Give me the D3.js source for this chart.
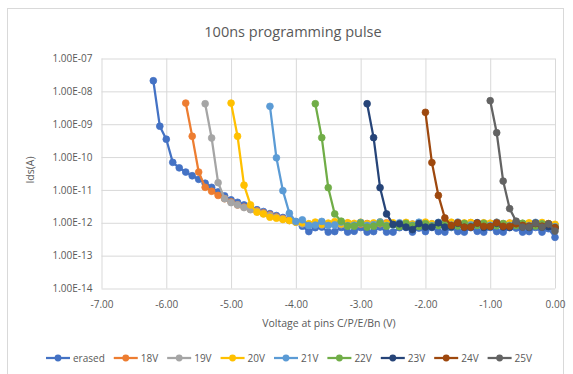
<!DOCTYPE html>
<html>
<head>
<meta charset="utf-8">
<script src="https://cdn.jsdelivr.net/npm/d3@7"></script>
<style>
  body { margin: 0; background: #fff; }
  text { font-family: "Open Sans", sans-serif; fill: #595959; }
</style>
</head>
<body>
<svg id="chart" width="573" height="374"></svg>
<script>
// sweep voltages (V), all series end at 0.00
const voltage = [-6.2, -6.1, -6.0, -5.9, -5.8, -5.7, -5.6, -5.5, -5.4, -5.3,
  -5.2, -5.1, -5.0, -4.9, -4.8, -4.7, -4.6, -4.5, -4.4, -4.3,
  -4.2, -4.1, -4.0, -3.9, -3.8, -3.7, -3.6, -3.5, -3.4, -3.3,
  -3.2, -3.1, -3.0, -2.9, -2.8, -2.7, -2.6, -2.5, -2.4, -2.3,
  -2.2, -2.1, -2.0, -1.9, -1.8, -1.7, -1.6, -1.5, -1.4, -1.3,
  -1.2, -1.1, -1.0, -0.9, -0.8, -0.7, -0.6, -0.5, -0.4, -0.3,
  -0.2, -0.1, 0.0];

const seriesNames = ['erased', '18V', '19V', '20V', '21V', '22V', '23V', '24V', '25V'];
const seriesColors = ['#4472C4', '#ED7D31', '#A5A5A5', '#FFC000', '#5B9BD5', '#70AD47', '#264478', '#9E480E', '#636363'];

const idsErased = [2.1e-8, 8.7e-10, 3.5e-10, 6.9e-11, 4.7e-11, 3.5e-11, 2.7e-11, 2.1e-11, 1.6e-11, 1.2e-11,
  8.7e-12, 6.6e-12, 5.0e-12, 4.2e-12, 3.5e-12, 2.95e-12, 2.5e-12, 2.2e-12, 1.9e-12, 1.66e-12,
  1.45e-12, 1.26e-12, 1.05e-12, 7.9e-13, 5.4e-13, 7.1e-13, 7.4e-13, 5.2e-13, 5.4e-13, 7.2e-13,
  5.2e-13, 5.5e-13, 7.2e-13, 5.2e-13, 5.4e-13, 7.4e-13, 5.2e-13, 5.2e-13, 7.1e-13, 7.2e-13,
  5.2e-13, 6.9e-13, 5.4e-13, 7.2e-13, 5.4e-13, 5.2e-13, 7.2e-13, 5.4e-13, 5.2e-13, 7.1e-13,
  5.5e-13, 5.2e-13, 7.2e-13, 5.4e-13, 5.2e-13, 7.1e-13, 6.9e-13, 5.2e-13, 5.4e-13, 7.2e-13,
  5.2e-13, 6.6e-13, 3.6e-13];
const ids18V = [4.4e-9, 4.3e-10, 3.5e-11, 1.2e-11, 9.1e-12, 6.8e-12, 5.4e-12, 4.3e-12, 3.5e-12, 3.0e-12,
  2.6e-12, 2.3e-12, 2.0e-12, 1.74e-12, 1.5e-12, 1.35e-12, 1.2e-12, 1.07e-12,
  9.6e-13, 8.8e-13, 9.2e-13, 1.0e-12, 8.7e-13, 9.4e-13, 8.9e-13, 9.8e-13, 8.6e-13, 9.1e-13,
  9.5e-13, 8.8e-13, 9.3e-13, 1.0e-12, 8.7e-13, 9.0e-13, 9.6e-13, 8.8e-13, 9.2e-13, 9.9e-13,
  8.6e-13, 9.4e-13, 9.0e-13, 9.7e-13, 8.8e-13, 9.3e-13, 1.0e-12, 8.7e-13, 9.1e-13, 9.5e-13,
  8.9e-13, 9.2e-13, 9.8e-13, 8.7e-13, 9.4e-13, 9.0e-13, 9.6e-13, 8.8e-13, 9.3e-13, 8.5e-13];
const ids19V = [4.2e-9, 3.8e-10, 1.66e-11, 5.4e-12, 4.1e-12, 3.5e-12, 2.9e-12, 2.5e-12, 2.2e-12, 1.9e-12,
  1.66e-12, 1.45e-12, 1.3e-12, 1.17e-12, 1.07e-12,
  9.3e-13, 8.9e-13, 9.7e-13, 8.6e-13, 9.2e-13, 9.9e-13, 8.8e-13, 9.4e-13, 9.0e-13, 9.6e-13,
  8.7e-13, 9.3e-13, 9.8e-13, 8.9e-13, 9.1e-13, 9.5e-13, 8.6e-13, 9.2e-13, 1.0e-12, 8.8e-13,
  9.4e-13, 9.0e-13, 9.7e-13, 8.7e-13, 9.3e-13, 9.6e-13, 8.9e-13, 9.1e-13, 9.8e-13, 8.8e-13,
  9.2e-13, 9.5e-13, 8.7e-13, 9.4e-13, 9.0e-13, 9.6e-13, 8.9e-13, 9.3e-13, 9.1e-13, 8.6e-13];
const ids20V = [4.4e-9, 4.3e-10, 1.4e-11, 3.5e-12, 2.1e-12, 1.86e-12, 1.48e-12, 1.38e-12, 1.26e-12, 1.17e-12,
  1.05e-12,
  1.0e-12, 9.4e-13, 1.05e-12, 9.1e-13, 9.8e-13, 1.08e-12, 9.3e-13, 1.0e-12, 9.6e-13, 1.04e-12,
  9.2e-13, 9.9e-13, 1.06e-12, 9.4e-13, 1.0e-12, 9.5e-13, 1.03e-12, 9.1e-13, 9.8e-13, 1.05e-12,
  9.3e-13, 1.0e-12, 9.6e-13, 1.04e-12, 9.2e-13, 9.9e-13, 1.02e-12, 9.4e-13, 1.0e-12, 9.7e-13,
  1.03e-12, 9.1e-13, 9.8e-13, 1.05e-12, 9.3e-13, 1.0e-12, 9.6e-13, 1.02e-12, 9.4e-13, 9.0e-13];
const ids21V = [3.5e-9, 9.5e-11, 9.5e-12, 1.95e-12, 1.1e-12, 1.23e-12, 8.3e-13, 8.5e-13, 1.1e-12, 8.3e-13,
  8.6e-13, 1.05e-12, 8.2e-13, 8.4e-13, 1.02e-12, 8.3e-13, 8.7e-13, 1.06e-12, 8.2e-13, 8.5e-13,
  1.0e-12, 8.4e-13, 8.3e-13, 1.04e-12, 8.6e-13, 8.2e-13, 1.03e-12, 8.4e-13, 8.5e-13, 1.05e-12,
  8.3e-13, 8.6e-13, 1.01e-12, 8.2e-13, 8.4e-13, 1.04e-12, 8.5e-13, 8.3e-13, 1.02e-12, 8.6e-13,
  8.2e-13, 1.03e-12, 8.4e-13, 8.5e-13, 7.6e-13];
const ids22V = [4.2e-9, 3.9e-10, 1.17e-11, 1.86e-12, 1.12e-12, 7.9e-13, 7.9e-13, 9.8e-13, 7.4e-13, 7.9e-13,
  9.8e-13, 7.9e-13,
  8.9e-13, 7.6e-13, 9.6e-13, 8.1e-13, 7.7e-13, 9.4e-13, 7.9e-13, 8.2e-13, 9.7e-13, 7.6e-13,
  8.0e-13, 9.5e-13, 7.8e-13, 8.3e-13, 9.6e-13, 7.7e-13, 8.1e-13, 9.4e-13, 7.9e-13, 8.2e-13,
  9.7e-13, 7.6e-13, 8.0e-13, 9.3e-13, 7.8e-13, 7.2e-13];
const ids23V = [4.2e-9, 3.9e-10, 1.17e-11, 1.86e-12, 8.9e-13, 9.3e-13, 7.4e-13, 6.2e-13, 9.5e-13, 7.4e-13,
  7.4e-13, 1.0e-12, 7.4e-13, 7.6e-13,
  9.7e-13, 7.3e-13, 7.5e-13, 9.9e-13, 7.2e-13, 7.6e-13, 9.6e-13, 7.4e-13, 7.3e-13, 9.8e-13,
  7.5e-13, 7.2e-13, 9.7e-13, 7.4e-13, 7.6e-13, 6.9e-13];
const ids24V = [2.3e-9, 6.8e-11, 6.8e-12, 1.4e-12, 8.3e-13, 1.0e-12, 7.4e-13, 7.4e-13, 9.8e-13, 7.8e-13,
  7.8e-13, 1.0e-12, 7.8e-13, 7.8e-13, 9.3e-13, 8.3e-13, 7.9e-13, 9.5e-13, 7.9e-13, 9.3e-13, 7.1e-13];
const ids25V = [5.2e-9, 5.5e-10, 1.86e-11, 2.7e-12, 1.12e-12, 7.4e-13, 7.4e-13, 9.8e-13, 7.4e-13, 9.3e-13, 5.6e-13];

const xTickValues = [-7, -6, -5, -4, -3, -2, -1, 0];
const xTickLabels = ['-7.00', '-6.00', '-5.00', '-4.00', '-3.00', '-2.00', '-1.00', '0.00'];
const yTickValues = [1e-14, 1e-13, 1e-12, 1e-11, 1e-10, 1e-9, 1e-8, 1e-7];
const yTickLabels = ['1.00E-14', '1.00E-13', '1.00E-12', '1.00E-11', '1.00E-10', '1.00E-09', '1.00E-08', '1.00E-07'];

const allIds = [idsErased, ids18V, ids19V, ids20V, ids21V, ids22V, ids23V, ids24V, ids25V];

// pair each series with the tail of the voltage sweep
const series = seriesNames.map((name, i) => {
  const vals = allIds[i];
  const xs = voltage.slice(voltage.length - vals.length);
  return { name, color: seriesColors[i], points: vals.map((v, j) => ({ x: xs[j], y: v })) };
});

const plot = { left: 101.5, right: 555, top: 58.5, bottom: 288.5 };

const svg = d3.select('#chart');

// chart frame
svg.append('rect')
  .attr('x', 7.5).attr('y', 8.5)
  .attr('width', 556).attr('height', 372)
  .attr('fill', '#fff')
  .attr('stroke', '#d9d9d9');

const x = d3.scaleLinear().domain([-7, 0]).range([plot.left, plot.right]);
const y = d3.scaleLog().domain([1e-14, 1e-7]).range([plot.bottom, plot.top]);

//@grid + axes
const xAxis = d3.axisBottom(x)
  .tickValues(xTickValues)
  .tickFormat((d, i) => xTickLabels[i])
  .tickSize(-(plot.bottom - plot.top))
  .tickPadding(12);
const yAxis = d3.axisLeft(y)
  .tickValues(yTickValues)
  .tickFormat((d, i) => yTickLabels[i])
  .tickSize(-(plot.right - plot.left))
  .tickPadding(9);

const gx = svg.append('g')
  .attr('transform', `translate(0,${plot.bottom})`)
  .call(xAxis);
const gy = svg.append('g')
  .attr('transform', `translate(${plot.left},0)`)
  .call(yAxis);

[gx, gy].forEach(g => {
  g.select('.domain').remove();
  g.selectAll('.tick line').attr('stroke', '#d9d9d9').attr('stroke-width', 1);
  g.selectAll('.tick text')
    .attr('fill', '#595959')
    .style('font-size', '10px')
    .style('font-family', '"Open Sans", sans-serif');
});

//@series
const line = d3.line().x(d => x(d.x)).y(d => y(d.y));

series.forEach(s => {
  const g = svg.append('g');
  g.append('path')
    .datum(s.points)
    .attr('d', line)
    .attr('fill', 'none')
    .attr('stroke', s.color)
    .attr('stroke-width', 2.25)
    .attr('stroke-linejoin', 'round');
  g.selectAll('circle')
    .data(s.points)
    .enter()
    .append('circle')
    .attr('cx', d => x(d.x))
    .attr('cy', d => y(d.y))
    .attr('r', 3.4)
    .attr('fill', s.color)
    .attr('stroke', s.color)
    .attr('stroke-width', 0.75);
});

//@titles
svg.append('text')
  .attr('x', 293).attr('y', 37)
  .attr('text-anchor', 'middle')
  .style('font-size', '14.5px')
  .text('100ns programming pulse');

svg.append('text')
  .attr('x', 329).attr('y', 327)
  .attr('text-anchor', 'middle')
  .style('font-size', '10.5px')
  .text('Voltage at pins C/P/E/Bn (V)');

svg.append('text')
  .attr('transform', 'translate(34,170) rotate(-90)')
  .attr('text-anchor', 'middle')
  .style('font-size', '10.5px')
  .text('Ids(A)');

//@legend
const legend = svg.append('g');
let lx = 0;
series.forEach(s => {
  const item = legend.append('g').attr('transform', `translate(${lx},0)`);
  item.append('line')
    .attr('x1', 0).attr('x2', 24)
    .attr('stroke', s.color)
    .attr('stroke-width', 2.25);
  item.append('circle')
    .attr('cx', 12).attr('r', 3.4)
    .attr('fill', s.color);
  const t = item.append('text')
    .attr('x', 27)
    .attr('dy', '0.35em')
    .style('font-size', '10px')
    .text(s.name);
  lx += 27 + t.node().getComputedTextLength() + 9;
});
lx -= 9;
legend.attr('transform', `translate(${289 - lx / 2},358)`);
</script>
</body>
</html>
